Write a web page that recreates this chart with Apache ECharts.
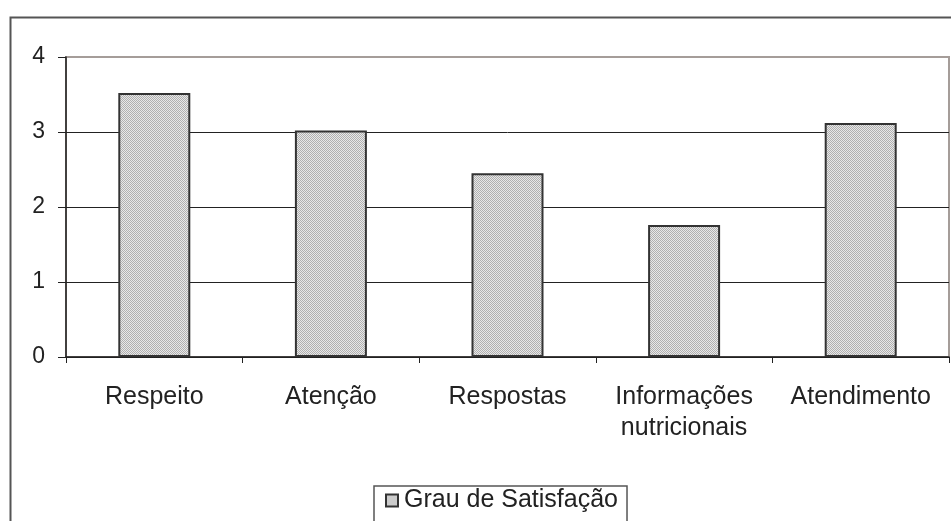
<!DOCTYPE html>
<html><head><meta charset="utf-8">
<script src="https://cdn.jsdelivr.net/npm/echarts@6/dist/echarts.min.js"></script>
<style>html,body{margin:0;padding:0;background:#fff}#c{width:951px;height:521px}</style>
</head><body><div id="c"></div>
<script>
const categories = ['Respeito', 'Atenção', 'Respostas', 'Informações\nnutricionais', 'Atendimento'];
const values = [3.52, 3.02, 2.45, 1.76, 3.12];
const seriesName = 'Grau de Satisfação';
const yTicks = [0, 1, 2, 3, 4];

function makePattern() {
  const c = document.createElement('canvas');
  c.width = 2; c.height = 2;
  const g = c.getContext('2d');
  g.fillStyle = '#e8e8e8'; g.fillRect(0, 0, 2, 2);
  g.fillStyle = '#b0b0b0'; g.fillRect(0, 0, 1, 1); g.fillRect(1, 1, 1, 1);
  return c;
}
const pat = makePattern();

const chart = echarts.init(document.getElementById('c'), null, {renderer: 'canvas'});
chart.setOption({
  animation: false,
  backgroundColor: '#fff',
  textStyle: {fontFamily: 'Liberation Sans, Arial, sans-serif'},
  graphic: [{
    type: 'rect', left: 8, top: 15, z: -10,
    shape: {width: 1000, height: 600},
    style: {fill: 'none', stroke: '#555', lineWidth: 2}
  }],
  grid: {left: 66, top: 57, right: 2, bottom: 164, show: true, borderColor: '#a59d99', borderWidth: 2, backgroundColor: 'transparent'},
  legend: {
    left: 374, top: 486, itemWidth: 12, itemHeight: 12, itemGap: 8,
    padding: [2, 9, 40, 11],
    borderColor: '#555', borderWidth: 1.5,
    icon: 'rect',
    textStyle: {fontSize: 25, color: '#222', fontFamily: 'Liberation Sans, Arial, sans-serif', padding: [0, 0, 0, 1]},
    data: [seriesName]
  },
  xAxis: {
    type: 'category', data: categories,
    axisLine: {lineStyle: {color: '#222', width: 1.5}},
    axisTick: {show: true, length: 6, alignWithLabel: false, lineStyle: {color: '#222'}},
    axisLabel: {fontSize: 25, color: '#222', margin: 25, lineHeight: 31, interval: 0},
    splitLine: {show: false}
  },
  yAxis: {
    type: 'value', min: 0, max: 4, interval: 1,
    axisLine: {show: true, lineStyle: {color: '#222', width: 1.5}},
    axisTick: {show: true, length: 8, lineStyle: {color: '#222'}},
    axisLabel: {fontSize: 23, color: '#222', margin: 21, formatter: v => yTicks.includes(v) ? String(v) : ''},
    splitLine: {show: true, showMaxLine: false, lineStyle: {color: '#222', width: 1}}
  },
  series: [{
    name: seriesName, type: 'bar', data: values, barWidth: 72,
    itemStyle: {color: {image: pat, repeat: 'repeat'}, borderColor: '#333', borderWidth: 2}
  }]
});
</script></body></html>
